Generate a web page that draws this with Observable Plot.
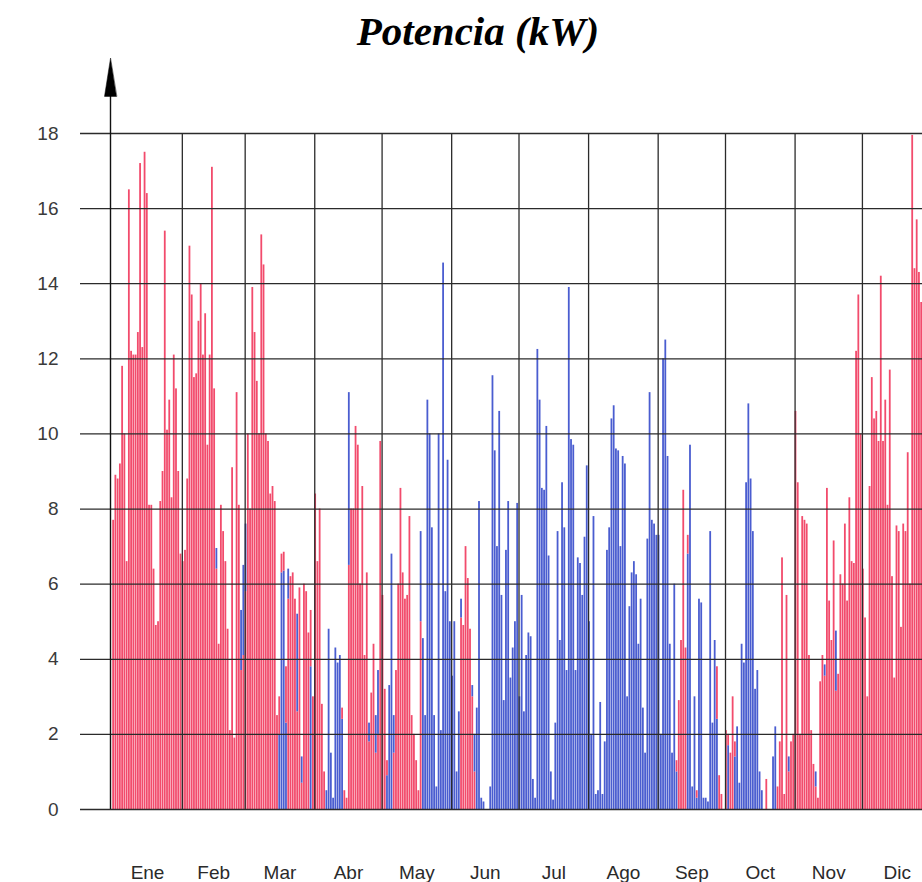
<!DOCTYPE html>
<html><head><meta charset="utf-8">
<script src="https://cdn.jsdelivr.net/npm/d3@7"></script>
<script src="https://cdn.jsdelivr.net/npm/@observablehq/plot@0.6"></script>
<style>
html,body{margin:0;padding:0;background:#fff;overflow:hidden;width:922px;height:882px}
#title{position:relative;height:57px;width:922px}
#title span{position:absolute;left:478px;top:31px;transform:translate(-50%,-50%);font-family:"Liberation Serif","Times New Roman",serif;font-weight:bold;font-style:italic;font-size:41px;white-space:nowrap;color:#000}
#chart{width:941px}
#chart svg{display:block;overflow:visible;max-width:none !important}
</style></head><body>
<div id="title"><span>Potencia (kW)</span></div>
<div id="chart"></div>
<script>
const months = ["Ene","Feb","Mar","Abr","May","Jun","Jul","Ago","Sep","Oct","Nov","Dic"];
const daysInMonth = [31,28,31,30,31,30,31,31,30,31,30,31];
const yTicks = [0,2,4,6,8,10,12,14,16,18];

// Calefacción (rojo): pico diario, kW
const heatEne = [7.7,8.9,8.8,9.2,11.8,10.0,6.6,16.5,12.2,12.1,12.1,12.7,17.2,12.3,17.5,16.4,8.1,8.1,6.4,4.9,5.0,8.2,9.0,15.4,10.1,10.9,8.3,12.1,11.2,9.0,6.8];
const heatFeb = [6.6,6.9,8.8,15.0,13.7,11.5,11.6,13.0,14.0,12.1,13.2,9.7,12.1,17.1,11.2,6.4,4.4,8.1,7.4,6.6,4.8,2.1,9.1,1.9,11.1,8.1,3.7,4.1];
const heatMar = [5.8,10.0,8.0,13.9,12.7,11.4,10.0,15.3,14.5,10.0,9.8,8.4,8.6,8.2,2.5,1.0,0.5,0.5,1.5,5.6,6.2,6.3,5.6,2.6,5.9,0.7,6.0,5.8,4.7,1.5,3.0];
const heatAbr = [8.4,6.6,8.0,2.8,1.0,0,0,0,0,0,0,0,0.3,0.5,0.3,6.5,8.0,8.0,10.2,9.7,6.0,8.6,4.1,6.3,1.8,3.1,4.4,1.5,2.0,9.8];
const heatMay = [5.7,3.2,0.4,0,0,1.5,3.7,6.0,8.55,6.3,5.6,5.7,7.8,2.5,2.0,1.3,0.5,5.0,0,0,0,0,0,0,0,0,0,0,0,0,0];
const heatJun = [0,0,0,0,5.1,4.9,7.0,6.15,4.8,3.0,1.0,0,0,0,0,0,0,0,0,0,0,0,0,0,0,0,0,0,0,0];
const heatJul = [];
const heatAgo = [];
const heatSep = [0,0,0,0,0,0,0,0,0.3,2.9,4.5,8.5,4.3,0.5,0,0,0,0.2,0,0,0,0,0,0,0,0,1.4,0.9,0.4,0];
const heatOct = [2.1,0.3,1.5,3.0,0.4,0,0,0,0,0,0,0,0,0,0,0,0,0,0.8,0,0,0,0,0.6,1.8,6.7,0.4,5.7,1.0,1.8,2.0];
const heatNov = [10.6,8.7,2.0,7.8,7.7,7.6,4.1,2.1,1.2,0.6,0.3,3.4,4.1,3.55,8.55,5.55,4.5,7.15,3.15,3.6,6.25,6.0,7.6,5.55,8.3,6.6,6.55,12.2,13.7,10.0];
const heatDic = [6.4,5.1,3.0,8.6,11.5,10.4,10.6,9.8,14.2,9.8,10.9,8.1,11.7,6.2,3.5,7.55,7.4,4.85,7.6,7.4,9.5,6.0,17.95,14.4,15.7,14.3,13.5,12.0,10.5,9.0,11.0];

// Refrigeración (azul): pico diario, kW
const coolEne = [];
const coolFeb = [0,0,0,0,0,0,0,0,0,0,0,0,0,0,0,0.55,0,0,0,0,0,0,0,0,0,0,1.6,2.4];
const coolMar = [1.8,0,0,0,0,0,0,0,0,0,0,0,0,0,0,2.0,6.3,6.35,2.3,0.8,0,0,0,2.6,0,0.7,0,0,0,3.8,0];
const coolAbr = [0,0,0,0,0,0.5,4.8,1.5,0.3,4.3,3.9,4.1,2.4,0,0,4.6,0,0,0,0,0,0,0,0,0.5,0,0,1.0,1.7,0];
const coolMay = [0,0,0.9,3.3,6.8,1.0,0,0,0,0,0,0,0,0,0,0,0,2.4,4.55,2.5,10.9,10.0,7.5,2.5,0.6,10.0,2.1,14.55,5.8,9.3,5.0];
const coolJun = [3.55,5.0,1.0,2.6,0.5,0,0,0,0,0.3,1.0,2.7,8.2,0.3,0.2,0,0,0.6,11.55,9.55,7.0,10.6,5.7,2.9,6.9,8.2,3.5,4.3,5.0,8.15];
const coolJul = [3.0,5.7,2.6,4.1,4.7,4.6,0.8,0.3,12.25,10.9,8.55,8.5,10.2,6.75,1.0,0.25,2.3,7.4,4.5,8.7,7.5,3.7,13.9,9.85,9.7,3.7,6.7,6.55,5.7,7.25,9.15];
const coolAgo = [5.0,2.0,7.8,0.4,0.5,2.85,0.4,1.8,6.9,7.5,10.4,10.75,9.6,9.55,7.0,9.4,9.2,3.0,5.4,6.3,6.6,6.25,4.4,5.6,2.7,1.5,7.2,11.1,7.7,7.6,7.3];
const coolSep = [7.3,2.0,12.0,12.5,9.4,4.4,1.5,6.0,1.0,0,0,0,0,6.8,9.7,0.6,3.0,0.3,5.6,5.5,0.3,0.3,0.2,7.4,2.3,4.5,2.4,0,0,0];
const coolOct = [0,1.7,0,0,1.4,2.2,0.7,4.4,3.9,8.7,10.8,8.8,7.4,3.2,3.7,1.0,0.5,0,0,0,0,1.4,2.2,0,0,0,0,0,0.4,0,0];
const coolNov = [0,0,0,0,0,0,0,0,0,0.4,0,0,0,0.3,0,0,0,0,1.6,0,0,0,0,0,0,0,0,0,0,0];
const coolDic = [];

const heat = [heatEne,heatFeb,heatMar,heatAbr,heatMay,heatJun,heatJul,heatAgo,heatSep,heatOct,heatNov,heatDic];
const cool = [coolEne,coolFeb,coolMar,coolAbr,coolMay,coolJun,coolJul,coolAgo,coolSep,coolOct,coolNov,coolDic];

const Y = 2023;
const rows = [];
months.forEach((m, mi) => {
  for (let d = 0; d < daysInMonth[mi]; d++) {
    const date = new Date(Date.UTC(Y, mi, d + 1));
    const next = new Date(Date.UTC(Y, mi, d + 2));
    const vals = [
      {tipo: "Calefacción", v: heat[mi][d] || 0},
      {tipo: "Refrigeración", v: cool[mi][d] || 0}
    ].filter(e => e.v > 0).sort((a, b) => b.v - a.v);
    for (const e of vals) rows.push({date, next, tipo: e.tipo, v: e.v});
  }
});
const monthStarts = months.map((m, i) => new Date(Date.UTC(Y, i, 1)));
const monthMids = months.map((m, i) => ({m, date: new Date(Date.UTC(Y, i, 1) + daysInMonth[i] * 43200000)}));
const xStart = new Date(Date.UTC(Y - 1, 11, 31));
const xEnd = new Date(Date.UTC(Y + 1, 0, 1));

const arrowHead = {
  draw(context, l, r) {
    context.moveTo(0, -l);
    context.lineTo(-r, 0);
    context.lineTo(r, 0);
    context.closePath();
  }
};

const chart = Plot.plot({
  width: 941, height: 825,
  marginLeft: 110, marginRight: 9.5, marginTop: 76, marginBottom: 73,
  x: {type: "utc", domain: [xStart, xEnd], axis: null},
  y: {domain: [0, 18], ticks: yTicks, tickSize: 0, tickPadding: 52, tickFormat: d => String(d), label: null},
  color: {domain: ["Calefacción", "Refrigeración"], range: ["#f24b6c", "#4a5dd0"]},
  style: {fontFamily: "'Liberation Sans', Arial, sans-serif", fontSize: "19px", color: "#3a3a3a", background: "#fff", overflow: "visible"},
  marks: [
    Plot.rectY(rows, {x1: "date", x2: "next", y: "v", fill: "tipo", insetLeft: 0, insetRight: 0.45}),
    Plot.ruleY(yTicks, {stroke: "#2b2b2b", strokeWidth: 1.3, insetLeft: -30}),
    Plot.ruleX(monthStarts.slice(1), {y1: 0, y2: 18, stroke: "#2b2b2b", strokeWidth: 1.3}),
    Plot.ruleX([xStart], {y1: 0, y2: 19.05, stroke: "#111", strokeWidth: 1.4}),
    Plot.vector([xStart], {x: d => d, y: () => 20, anchor: "end", length: 38, r: 6, shape: arrowHead, fill: "#000", stroke: "#000", strokeWidth: 0.5}),
    Plot.text(monthMids, {x: "date", y: () => 0, dy: 63, text: "m", fill: "#2a2a2a", fontSize: 19})
  ]
});
chart.style.maxWidth = "none";
chart.style.width = "941px";
chart.style.height = "825px";
document.getElementById("chart").appendChild(chart);
</script>
</body></html>
